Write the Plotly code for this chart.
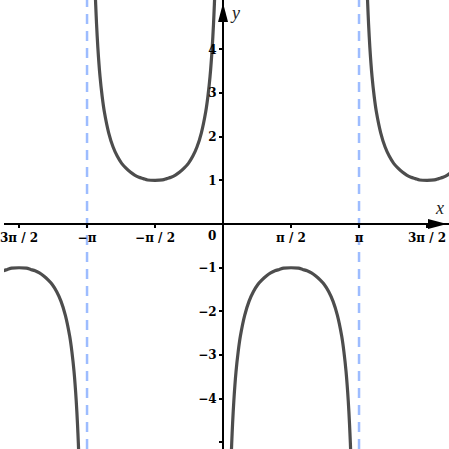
import math
import plotly.graph_objects as go

# ---- data (y = -csc x) ----
b1_x = [-3.332, -3.342, -3.362, -3.392, -3.442, -3.492, -3.542, -3.642, -3.742, -3.842, -3.942,
        -4.042, -4.142, -4.242, -4.342, -4.442, -4.542, -4.712, -4.883, -4.983, -5.083, -5.183]
b1_y = [-5.29, -5.03, -4.58, -4.04, -3.38, -2.92, -2.57, -2.09, -1.77, -1.55, -1.39,
        -1.28, -1.19, -1.12, -1.07, -1.04, -1.01, -1.00, -1.01, -1.04, -1.07, -1.12]

b2_x = [-2.952, -2.942, -2.922, -2.892, -2.842, -2.792, -2.742, -2.642, -2.542, -2.442, -2.342,
        -2.242, -2.142, -2.042, -1.942, -1.842, -1.742, -1.571, -1.4, -1.3, -1.2, -1.1, -1.0,
        -0.9, -0.8, -0.7, -0.6, -0.5, -0.4, -0.35, -0.3, -0.25, -0.22, -0.2, -0.19]
b2_y = [5.29, 5.03, 4.58, 4.04, 3.38, 2.92, 2.57, 2.09, 1.77, 1.55, 1.39,
        1.28, 1.19, 1.12, 1.07, 1.04, 1.01, 1.00, 1.01, 1.04, 1.07, 1.12, 1.19,
        1.28, 1.39, 1.55, 1.77, 2.09, 2.57, 2.92, 3.38, 4.04, 4.58, 5.03, 5.29]

b3_x = [0.19, 0.2, 0.22, 0.25, 0.3, 0.35, 0.4, 0.5, 0.6, 0.7, 0.8, 0.9, 1.0, 1.1, 1.2, 1.3, 1.4,
        1.571, 1.742, 1.842, 1.942, 2.042, 2.142, 2.242, 2.342, 2.442, 2.542, 2.642, 2.742,
        2.792, 2.842, 2.892, 2.922, 2.942, 2.952]
b3_y = [-5.29, -5.03, -4.58, -4.04, -3.38, -2.92, -2.57, -2.09, -1.77, -1.55, -1.39, -1.28, -1.19,
        -1.12, -1.07, -1.04, -1.01, -1.00, -1.01, -1.04, -1.07, -1.12, -1.19, -1.28, -1.39, -1.55,
        -1.77, -2.09, -2.57, -2.92, -3.38, -4.04, -4.58, -5.03, -5.29]

b4_x = [3.332, 3.342, 3.362, 3.392, 3.442, 3.492, 3.542, 3.642, 3.742, 3.842, 3.942,
        4.042, 4.142, 4.242, 4.342, 4.442, 4.542, 4.712, 4.883, 4.983, 5.083, 5.183, 5.283]
b4_y = [5.29, 5.03, 4.58, 4.04, 3.38, 2.92, 2.57, 2.09, 1.77, 1.55, 1.39,
        1.28, 1.19, 1.12, 1.07, 1.04, 1.01, 1.00, 1.01, 1.04, 1.07, 1.12, 1.19]

asymptotes = [-math.pi, math.pi]

x_tickvals = [-3 * math.pi / 2, -math.pi, -math.pi / 2, math.pi / 2, math.pi, 3 * math.pi / 2]
x_ticktext = ["3π / 2", "−π", "−π / 2", "π / 2", "π", "3π / 2"]
y_tickvals = [-5, -4, -3, -2, -1, 1, 2, 3, 4]
y_ticktext = ["", "−4", "−3", "−2", "−1", "1", "2", "3", "4"]

x_range = [-5.06, 5.22]
y_range = [-5.15, 5.13]

CURVE = "#4d4d4d"
DASH = "#9dbcff"
tickfont = dict(family="DejaVu Serif", size=12, color="black", weight="bold")

fig = go.Figure()
for a in asymptotes:
    fig.add_vline(x=a, line=dict(color=DASH, width=2.5, dash="10px,7px"), layer="below")

for bx, by in [(b1_x, b1_y), (b2_x, b2_y), (b3_x, b3_y), (b4_x, b4_y)]:
    fig.add_trace(go.Scatter(x=bx, y=by, mode="lines",
                             line=dict(color=CURVE, width=3.2, shape="spline", smoothing=0.8),
                             hoverinfo="skip", showlegend=False))

xpos = (0 - y_range[0]) / (y_range[1] - y_range[0])
ypos = (0 - x_range[0]) / (x_range[1] - x_range[0])

fig.update_layout(
    width=449, height=449, autosize=False,
    margin=dict(l=0, r=0, t=0, b=0),
    paper_bgcolor="white", plot_bgcolor="white",
    showlegend=False,
    xaxis=dict(range=x_range, anchor="free", position=xpos, showgrid=False, zeroline=False,
               showline=True, linecolor="black", linewidth=2,
               ticks="outside", ticklen=3, tickwidth=1.5, tickcolor="black",
               tickvals=x_tickvals, ticktext=x_ticktext, tickfont=tickfont,
               ticklabeloverflow="allow", fixedrange=True),
    yaxis=dict(range=y_range, anchor="free", position=ypos, showgrid=False, zeroline=False,
               showline=True, linecolor="black", linewidth=2,
               ticks="outside", ticklen=3, tickwidth=1.5, tickcolor="black",
               tickvals=y_tickvals, ticktext=y_ticktext, tickfont=tickfont,
               ticklabeloverflow="allow", fixedrange=True),
)

# "0" origin label
fig.add_annotation(x=0, y=0, text="0", showarrow=False, xanchor="center", yanchor="middle",
                   xshift=-11, yshift=-12, font=tickfont)
# axis names
fig.add_annotation(x=x_range[1], y=0, text="x", showarrow=False, xanchor="right", yanchor="bottom",
                   xshift=-3, yshift=4,
                   font=dict(family="Liberation Serif", size=18, color="#222", style="italic"))
fig.add_annotation(x=0, y=y_range[1], text="y", showarrow=False, xanchor="left", yanchor="top",
                   xshift=5, yshift=-1,
                   font=dict(family="Liberation Serif", size=18, color="#222", style="italic"))

# arrowheads
fig.add_shape(type="path", xref="x", yref="y", xsizemode="pixel", ysizemode="pixel",
              xanchor=x_range[1], yanchor=0,
              path="M -2,0 L -21,5 L -21,-5 Z", fillcolor="black", line=dict(width=0))
fig.add_shape(type="path", xref="x", yref="y", xsizemode="pixel", ysizemode="pixel",
              xanchor=0, yanchor=y_range[1],
              path="M 0,-3 L -5,-22 L 5,-22 Z", fillcolor="black", line=dict(width=0))

fig.write_html("out.html", config={"displayModeBar": False},
               post_script="document.body.style.margin='0';document.body.style.padding='0';")
